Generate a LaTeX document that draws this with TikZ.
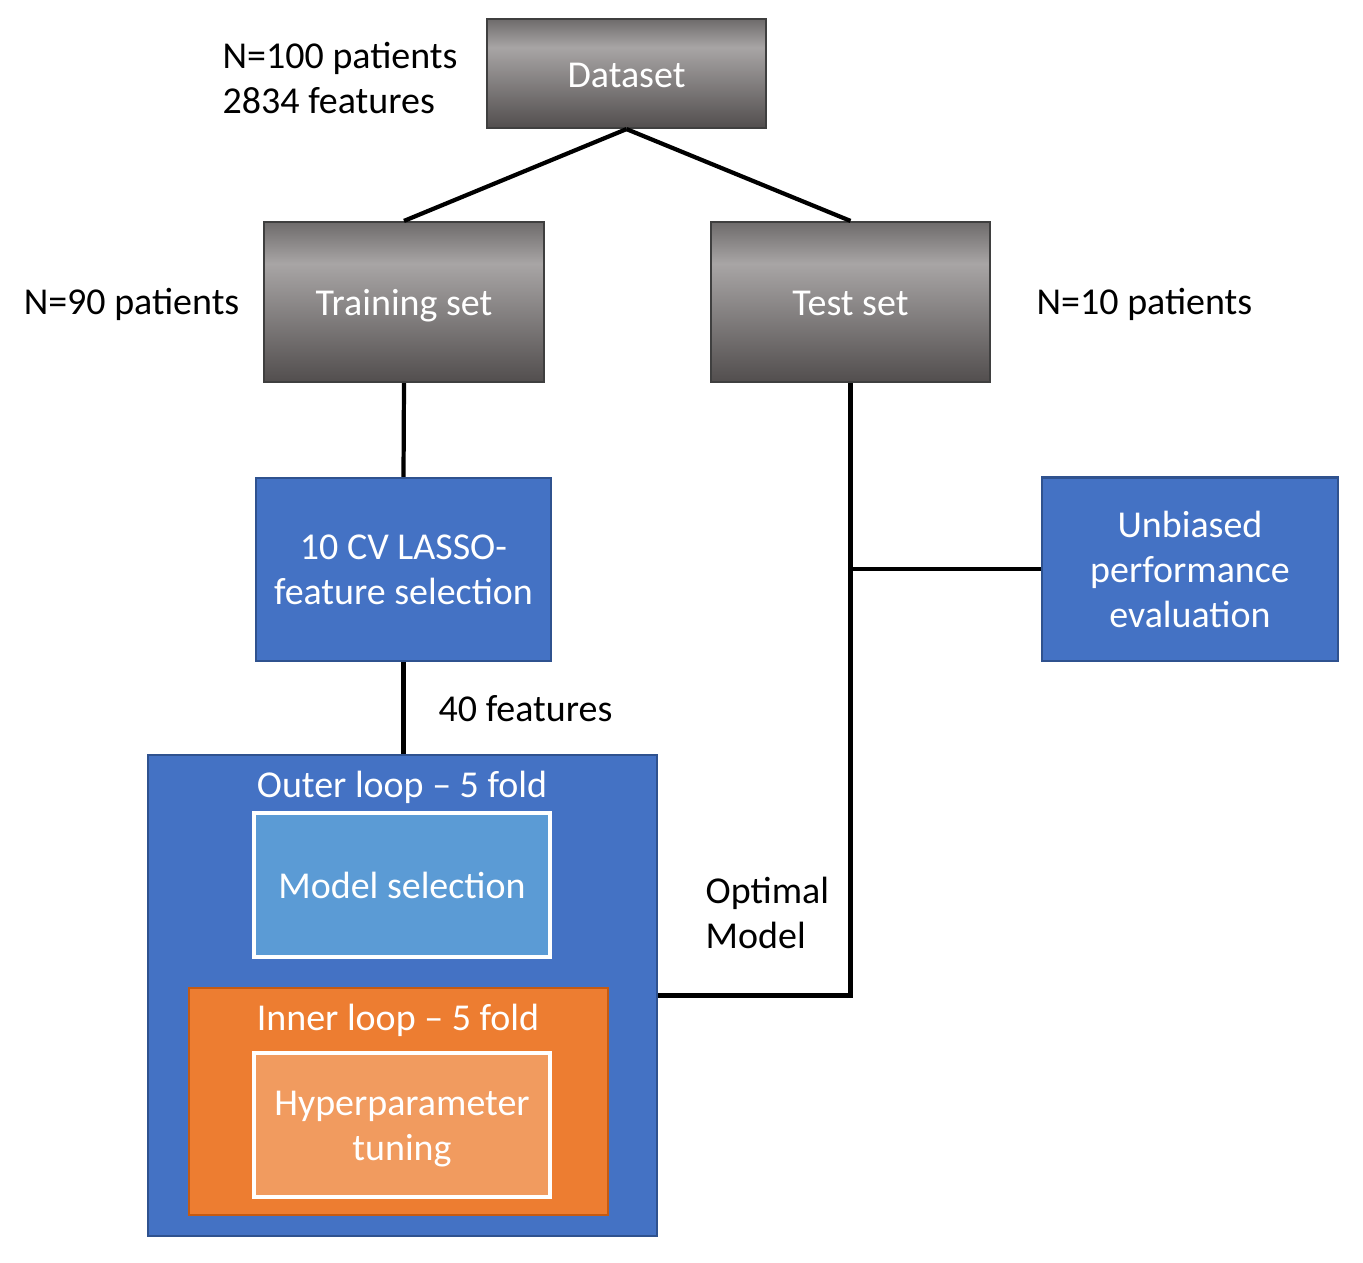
\documentclass[tikz,border=0pt]{standalone}
\usepackage{fontspec}
\setmainfont{Carlito}
\usetikzlibrary{positioning}
\tikzset{>=latex}
\definecolor{gtop}{HTML}{6E6B6B}
\definecolor{glight}{HTML}{A8A5A5}
\definecolor{gbot}{HTML}{524E4E}
\definecolor{gedge}{HTML}{3F3F3F}
\definecolor{bfill}{HTML}{4472C4}
\definecolor{bedge}{HTML}{2F528F}
\definecolor{lblue}{HTML}{5B9BD5}
\definecolor{ofill}{HTML}{ED7D31}
\definecolor{oedge}{HTML}{C55A11}
\definecolor{lorange}{HTML}{F19B5F}
\pgfdeclareverticalshading{grayband}{100bp}{color(0bp)=(gbot); color(25bp)=(gbot); color(62bp)=(glight); color(75bp)=(gtop); color(100bp)=(gtop)}

\begin{document}
\begin{tikzpicture}[x=0.01cm,y=-0.01cm,every node/.style={font=\fontsize{10.8}{12.8}\selectfont},
  conn/.style={line width=1.2pt},
  lbl/.style={inner sep=0pt,align=left},
  graybox/.style={shade,shading=grayband,draw=gedge,line width=0.6pt,text=white,minimum width=2.79cm,text height=0.98em,text depth=0.2em},
  bluebox/.style={draw=bedge,line width=0.6pt,fill=bfill,text=white,align=center,minimum width=2.95cm,minimum height=1.83cm},
  innerbox/.style={draw=white,line width=1pt,text=white,align=center,minimum width=2.96cm,minimum height=1.44cm}]
\useasboundingbox (0,0) rectangle (1363,1262);
% top row
\node[graybox,minimum height=1.09cm] (data) at (626.5,73.5) {Dataset};
\node[graybox,minimum height=1.60cm] (train) at (404,302) {Training set};
\node[graybox,minimum height=1.60cm] (test) at (850.5,302) {Test set};
\node[bluebox] (lasso) at (403.5,569.5) {10 CV LASSO-\\feature selection};
\node[bluebox] (eval) at (1190,569) {Unbiased\\performance\\evaluation};
% nested loops
\node[draw=bedge,line width=0.6pt,fill=bfill,minimum width=5.09cm,minimum height=4.81cm] (outer) at (402.5,995.5) {};
\node[text=white] (outerlbl) at (402,787) {Outer loop -- 5 fold};
\node[innerbox,fill=lblue] (msel) at (402,885) {Model selection};
\node[draw=oedge,line width=0.6pt,fill=ofill,minimum width=4.19cm,minimum height=2.27cm] (inner) at (398.5,1101.5) {};
\node[text=white] (innerlbl) at (398,1020) {Inner loop -- 5 fold};
\node[draw=white,line width=1pt,fill=lorange,minimum width=2.96cm,minimum height=1.44cm] (hyper) at (402,1125) {};
\node[text=white,align=center] (hyperlbl) at (402,1129) {Hyperparameter\\tuning};
% side texts
\node[lbl,anchor=west] (ninfo) at (222,78) {N=100 patients\\2834 features};
\node[lbl,anchor=east] (ntrain) at (240,304) {N=90 patients};
\node[lbl,anchor=west] (ntest) at (1036,304) {N=10 patients};
\node[lbl,anchor=west] (nfeat) at (438,709) {40 features};
\node[lbl,anchor=west] (optm) at (705,913) {Optimal\\Model};
% connectors
\draw[conn] (data.south) -- (train.north);
\draw[conn] (data.south) -- (test.north);
\draw[conn] (train.south) -- (lasso.north);
\draw[conn] (lasso.south) -- (lasso.south |- outer.north);
\draw[conn] (test.south) |- (outer.east);
\draw[conn] (eval.west) -- (eval.west -| test.south);
\end{tikzpicture}
\end{document}
